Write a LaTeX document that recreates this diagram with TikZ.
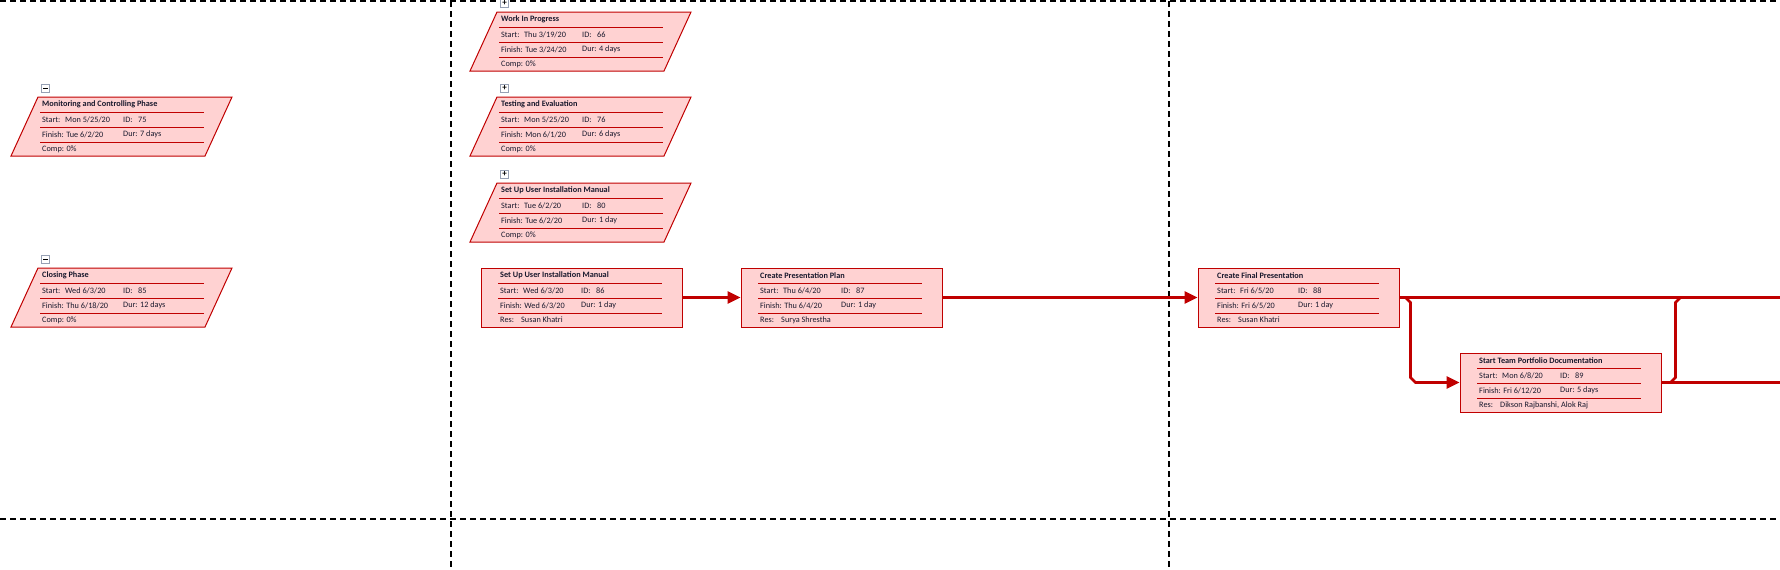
\documentclass[tikz,border=0pt]{standalone}
\usepackage{fontspec}
\setmainfont{Carlito}
\usetikzlibrary{arrows.meta,calc}

\definecolor{pertred}{RGB}{192,0,0}
\definecolor{pertfill}{RGB}{255,210,210}
\definecolor{perttext}{RGB}{25,25,45}
\definecolor{togglegray}{RGB}{150,160,180}

% slanted outline round a summary node
\newcommand{\summaryframe}[1]{%
   \draw[taskframe] (#1.south west) -- ([xshift=27pt]#1.north west) -- (#1.north east)
      -- ([xshift=-27pt]#1.south east) -- cycle;
}

% title, two rows of dates and a last row, ruled like the project network boxes
\newcommand{\taskfields}[9]{%
   \node[tasktitle] (#1-title) at (#2,-#3-7.5) {#4};
   \draw[rowline] (#2-2,-#3-15) -- ++(164,0)
                  (#2-2,-#3-30) -- ++(164,0)
                  (#2-2,-#3-45) -- ++(164,0);
   \node[taskrow] (#1-start)  at (#2,-#3-22.5)    {\makebox[23pt][l]{Start:}#5};
   \node[taskrow] (#1-id)     at (#2+81,-#3-22.5) {\makebox[15pt][l]{ID:}#6};
   \node[taskrow] (#1-finish) at (#2,-#3-37.5)    {Finish: #7};
   \node[taskrow] (#1-dur)    at (#2+81,-#3-37.5) {Dur: #8};
   \node[taskrow] (#1-last)   at (#2,-#3-52)      {#9};
}

\begin{document}
\begin{tikzpicture}[x=1pt, y=1pt,
   every node/.style={font=\fontsize{8.25}{10}\selectfont, text=perttext},
   taskbox/.style={draw=pertred, fill=pertfill, line width=1pt,
      minimum width=201pt, minimum height=59pt, inner sep=0pt},
   summary/.style={minimum width=221pt, minimum height=59pt, inner sep=0pt, outer sep=0pt},
   taskframe/.style={draw=pertred, fill=pertfill, line width=1pt},
   tasktitle/.style={anchor=west, inner sep=0pt, font=\fontsize{8.25}{10}\selectfont\bfseries},
   taskrow/.style={anchor=west, inner sep=0pt},
   rowline/.style={draw=pertred, line width=0.9pt},
   link/.style={draw=pertred, line width=2.6pt},
   arrowlink/.style={link, -{Triangle[length=13pt,width=12pt]}},
   togglebox/.style={draw=togglegray, fill=white, line width=0.8pt, minimum size=8pt,
      inner sep=0pt, font=\fontsize{9}{9}\selectfont\bfseries, text=black},
   pagebreak/.style={dashed, dash pattern=on 6pt off 4pt, line width=1.1pt, black}
]
   \useasboundingbox (0,0) rectangle (1780,-570);

% page breaks
   \draw[pagebreak] (0,-1) -- (1780,-1);
   \draw[pagebreak] (0,-519) -- (1780,-519);
   \draw[pagebreak] (451,-1) -- (451,-570);
   \draw[pagebreak] (1169,-1) -- (1169,-570);

% summary 75: Monitoring and Controlling Phase
   \node[summary] (P75) at (121.5,-126.5) {};
   \summaryframe{P75}
   \node[togglebox] (P75-toggle) at (45.5,-88.5) {\rule{5pt}{1.1pt}};
   \taskfields{P75}{42}{97}{Monitoring and Controlling Phase}{Mon 5/25/20}{75}{Tue 6/2/20}{7 days}{Comp: 0\%}

% summary 85: Closing Phase
   \node[summary] (P85) at (121.5,-297.5) {};
   \summaryframe{P85}
   \node[togglebox] (P85-toggle) at (45.5,-259.5) {\rule{5pt}{1.1pt}};
   \taskfields{P85}{42}{268}{Closing Phase}{Wed 6/3/20}{85}{Thu 6/18/20}{12 days}{Comp: 0\%}

% summary 66: Work In Progress
   \node[summary] (P66) at (580.5,-41.5) {};
   \summaryframe{P66}
   \node[togglebox] (P66-toggle) at (504.5,-3.5) {+};
   \taskfields{P66}{501}{12}{Work In Progress}{Thu 3/19/20}{66}{Tue 3/24/20}{4 days}{Comp: 0\%}

% summary 76: Testing and Evaluation
   \node[summary] (P76) at (580.5,-126.5) {};
   \summaryframe{P76}
   \node[togglebox] (P76-toggle) at (504.5,-88.5) {+};
   \taskfields{P76}{501}{97}{Testing and Evaluation}{Mon 5/25/20}{76}{Mon 6/1/20}{6 days}{Comp: 0\%}

% summary 80: Set Up User Installation Manual
   \node[summary] (P80) at (580.5,-212.5) {};
   \summaryframe{P80}
   \node[togglebox] (P80-toggle) at (504.5,-174.5) {+};
   \taskfields{P80}{501}{183}{Set Up User Installation Manual}{Tue 6/2/20}{80}{Tue 6/2/20}{1 day}{Comp: 0\%}

% task 86: Set Up User Installation Manual
   \node[taskbox] (R86) at (581.5,-297.5) {};
   \taskfields{R86}{500}{268}{Set Up User Installation Manual}{Wed 6/3/20}{86}{Wed 6/3/20}{1 day}{\makebox[21pt][l]{Res:}Susan Khatri}

% task 87: Create Presentation Plan
   \node[taskbox] (R87) at (841.5,-297.5) {};
   \taskfields{R87}{760}{268}{Create Presentation Plan}{Thu 6/4/20}{87}{Thu 6/4/20}{1 day}{\makebox[21pt][l]{Res:}Surya Shrestha}
   \draw[arrowlink] (R86.east) -- (R87.west);

% task 88: Create Final Presentation
   \node[taskbox] (R88) at (1298.5,-297.5) {};
   \taskfields{R88}{1217}{268}{Create Final Presentation}{Fri 6/5/20}{88}{Fri 6/5/20}{1 day}{\makebox[21pt][l]{Res:}Susan Khatri}
   \draw[arrowlink] (R87.east) -- (R88.west);

% task 89: Start Team Portfolio Documentation
   \node[taskbox] (R89) at (1560.5,-382.5) {};
   \taskfields{R89}{1479}{353}{Start Team Portfolio Documentation}{Mon 6/8/20}{89}{Fri 6/12/20}{5 days}{\makebox[21pt][l]{Res:}Dikson Rajbanshi, Alok Raj}

% links running on to the next page
   \coordinate (out88) at (1780,-297.5);
   \coordinate (out89) at (1780,-382.5);
   \draw[link] (R88.east) -- (out88);
   \draw[arrowlink] ($(R88.east)+(6,0)$) -- ++(5,-5)
       -- ($(R88.east |- R89.west)+(11,5)$) -- ++(5,-5) -- (R89.west);
   \draw[link] (R89.east) -- (out89);
   \draw[link] ($(R89.east)+(9,0)$) -- ++(5,5)
       -- ($(R89.east |- R88.east)+(14,-5)$) -- ++(5,5);

\end{tikzpicture}
\end{document}
